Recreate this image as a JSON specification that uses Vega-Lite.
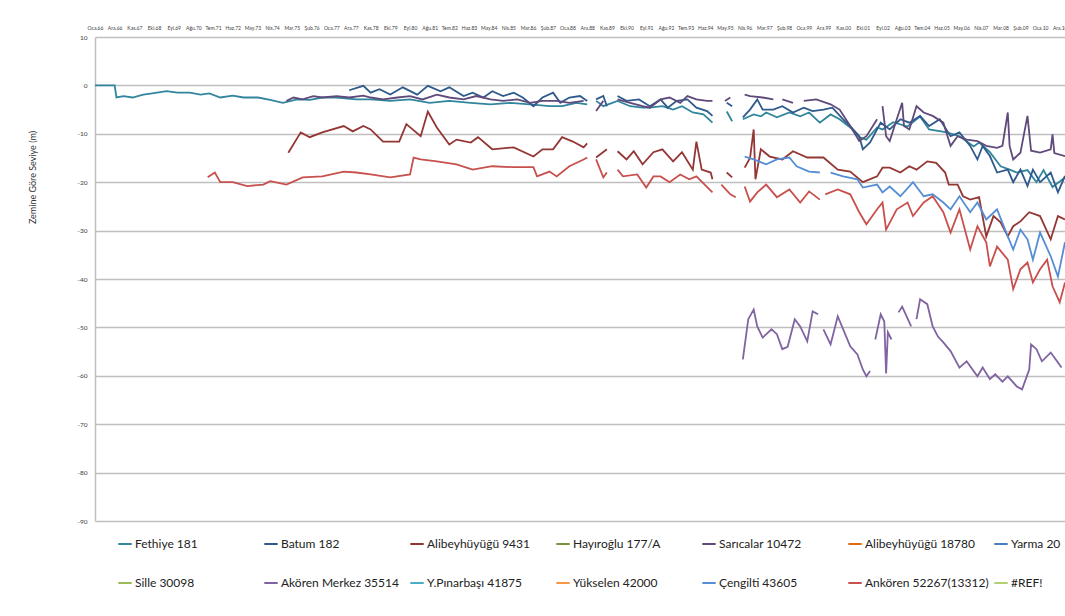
{
  "$schema": "https://vega.github.io/schema/vega-lite/v6.json",
  "width": 970,
  "height": 484,
  "autosize": {"type": "none"},
  "padding": {"left": 95, "top": 37, "right": 0, "bottom": 95},
  "background": "white",
  "config": {"view": {"stroke": null}, "font": "Lato"},
  "datasets": {
    "levels": [
      {"s":"Fethiye 181","d":"1966-01","v":0},{"s":"Fethiye 181","d":"1966-12","v":0},{"s":"Fethiye 181","d":"1967-01","v":-2.5},{"s":"Fethiye 181","d":"1967-05","v":-2.2},{"s":"Fethiye 181","d":"1967-10","v":-2.5},{"s":"Fethiye 181","d":"1968-04","v":-1.9},{"s":"Fethiye 181","d":"1968-09","v":-1.65},{"s":"Fethiye 181","d":"1969-05","v":-1.2},{"s":"Fethiye 181","d":"1969-11","v":-1.5},{"s":"Fethiye 181","d":"1970-06","v":-1.5},{"s":"Fethiye 181","d":"1970-12","v":-1.9},{"s":"Fethiye 181","d":"1971-05","v":-1.65},{"s":"Fethiye 181","d":"1971-11","v":-2.5},{"s":"Fethiye 181","d":"1972-06","v":-2.1},{"s":"Fethiye 181","d":"1972-12","v":-2.5},{"s":"Fethiye 181","d":"1973-08","v":-2.5},{"s":"Fethiye 181","d":"1974-03","v":-3.0},{"s":"Fethiye 181","d":"1974-10","v":-3.6},{"s":"Fethiye 181","d":"1975-06","v":-2.9},{"s":"Fethiye 181","d":"1976-01","v":-3.0},{"s":"Fethiye 181","d":"1976-08","v":-2.5},{"s":"Fethiye 181","d":"1977-04","v":-2.5},{"s":"Fethiye 181","d":"1978-03","v":-2.9},{"s":"Fethiye 181","d":"1978-11","v":-2.9},{"s":"Fethiye 181","d":"1979-10","v":-3.2},{"s":"Fethiye 181","d":"1980-09","v":-2.9},{"s":"Fethiye 181","d":"1981-08","v":-3.6},{"s":"Fethiye 181","d":"1982-07","v":-3.2},{"s":"Fethiye 181","d":"1983-07","v":-3.6},{"s":"Fethiye 181","d":"1984-06","v":-3.9},{"s":"Fethiye 181","d":"1985-05","v":-3.6},{"s":"Fethiye 181","d":"1986-04","v":-3.9},{"s":"Fethiye 181","d":"1987-03","v":-4.3},{"s":"Fethiye 181","d":"1987-10","v":-4.3},{"s":"Fethiye 181","d":"1988-06","v":-3.6},{"s":"Fethiye 181","d":"1988-12","v":-3.9},{"s":"Fethiye 181","d":"1989-02","v":null},{"s":"Fethiye 181","d":"1989-05","v":-3.2},{"s":"Fethiye 181","d":"1989-09","v":-4.3},{"s":"Fethiye 181","d":"1990-05","v":-3.2},{"s":"Fethiye 181","d":"1990-12","v":-4.3},{"s":"Fethiye 181","d":"1991-07","v":-4.6},{"s":"Fethiye 181","d":"1991-11","v":-4.6},{"s":"Fethiye 181","d":"1992-06","v":-4.3},{"s":"Fethiye 181","d":"1992-12","v":-5.0},{"s":"Fethiye 181","d":"1993-05","v":-4.3},{"s":"Fethiye 181","d":"1993-11","v":-5.6},{"s":"Fethiye 181","d":"1994-05","v":-6.0},{"s":"Fethiye 181","d":"1994-10","v":-7.7},{"s":"Fethiye 181","d":"1995-02","v":null},{"s":"Fethiye 181","d":"1995-06","v":-5.4},{"s":"Fethiye 181","d":"1995-09","v":-7.4},{"s":"Fethiye 181","d":"1995-12","v":null},{"s":"Fethiye 181","d":"1996-03","v":-7.0},{"s":"Fethiye 181","d":"1996-09","v":-6.0},{"s":"Fethiye 181","d":"1997-01","v":-6.4},{"s":"Fethiye 181","d":"1997-04","v":-5.6},{"s":"Fethiye 181","d":"1997-10","v":-6.6},{"s":"Fethiye 181","d":"1998-05","v":-5.6},{"s":"Fethiye 181","d":"1998-11","v":-6.4},{"s":"Fethiye 181","d":"1999-04","v":-5.6},{"s":"Fethiye 181","d":"1999-10","v":-7.7},{"s":"Fethiye 181","d":"2000-04","v":-6.0},{"s":"Fethiye 181","d":"2000-09","v":-7.0},{"s":"Fethiye 181","d":"2001-03","v":-8.7},{"s":"Fethiye 181","d":"2001-08","v":-10.7},{"s":"Fethiye 181","d":"2001-12","v":-11.2},{"s":"Fethiye 181","d":"2002-06","v":-8.7},{"s":"Fethiye 181","d":"2002-09","v":-9.1},{"s":"Fethiye 181","d":"2003-03","v":-7.6},{"s":"Fethiye 181","d":"2003-11","v":-8.5},{"s":"Fethiye 181","d":"2004-06","v":-6.4},{"s":"Fethiye 181","d":"2004-11","v":-9.1},{"s":"Fethiye 181","d":"2005-09","v":-9.7},{"s":"Fethiye 181","d":"2006-04","v":-10.5},{"s":"Fethiye 181","d":"2006-12","v":-12.6},{"s":"Fethiye 181","d":"2007-03","v":-11.8},{"s":"Fethiye 181","d":"2007-09","v":-13.8},{"s":"Fethiye 181","d":"2008-03","v":-16.7},{"s":"Fethiye 181","d":"2008-08","v":-17.4},{"s":"Fethiye 181","d":"2008-12","v":-18},{"s":"Fethiye 181","d":"2009-06","v":-17.5},{"s":"Fethiye 181","d":"2009-11","v":-20},{"s":"Fethiye 181","d":"2010-03","v":-17.5},{"s":"Fethiye 181","d":"2010-08","v":-21},{"s":"Fethiye 181","d":"2011-03","v":-19},

      {"s":"Batum 182","d":"1977-11","v":-1.0},{"s":"Batum 182","d":"1978-07","v":-0.1},{"s":"Batum 182","d":"1978-11","v":-1.5},{"s":"Batum 182","d":"1979-04","v":-0.8},{"s":"Batum 182","d":"1979-10","v":-1.9},{"s":"Batum 182","d":"1980-05","v":-0.4},{"s":"Batum 182","d":"1981-01","v":-1.9},{"s":"Batum 182","d":"1981-07","v":-0.1},{"s":"Batum 182","d":"1982-02","v":-1.2},{"s":"Batum 182","d":"1982-07","v":-0.4},{"s":"Batum 182","d":"1983-03","v":-2.2},{"s":"Batum 182","d":"1983-08","v":-1.5},{"s":"Batum 182","d":"1984-02","v":-2.5},{"s":"Batum 182","d":"1984-07","v":-1.2},{"s":"Batum 182","d":"1985-01","v":-2.2},{"s":"Batum 182","d":"1985-07","v":-1.5},{"s":"Batum 182","d":"1985-12","v":-2.5},{"s":"Batum 182","d":"1986-06","v":-4.3},{"s":"Batum 182","d":"1986-11","v":-2.5},{"s":"Batum 182","d":"1987-05","v":-1.5},{"s":"Batum 182","d":"1987-09","v":-3.6},{"s":"Batum 182","d":"1988-02","v":-2.5},{"s":"Batum 182","d":"1988-08","v":-2.2},{"s":"Batum 182","d":"1988-12","v":-3.2},{"s":"Batum 182","d":"1989-02","v":null},{"s":"Batum 182","d":"1989-05","v":-2.9},{"s":"Batum 182","d":"1989-09","v":-2.2},{"s":"Batum 182","d":"1989-11","v":-4.3},{"s":"Batum 182","d":"1990-02","v":null},{"s":"Batum 182","d":"1990-05","v":-2.2},{"s":"Batum 182","d":"1990-10","v":-3.2},{"s":"Batum 182","d":"1991-05","v":-2.9},{"s":"Batum 182","d":"1991-11","v":-4.3},{"s":"Batum 182","d":"1992-05","v":-2.9},{"s":"Batum 182","d":"1992-09","v":-4.6},{"s":"Batum 182","d":"1993-02","v":-3.2},{"s":"Batum 182","d":"1993-08","v":-2.9},{"s":"Batum 182","d":"1994-01","v":-4.6},{"s":"Batum 182","d":"1994-07","v":-5.3},{"s":"Batum 182","d":"1994-10","v":-6.3},{"s":"Batum 182","d":"1995-02","v":null},{"s":"Batum 182","d":"1995-06","v":-3.6},{"s":"Batum 182","d":"1995-09","v":-4.3},{"s":"Batum 182","d":"1995-12","v":null},{"s":"Batum 182","d":"1996-03","v":-6.6},{"s":"Batum 182","d":"1996-07","v":-5.0},{"s":"Batum 182","d":"1996-11","v":-2.9},{"s":"Batum 182","d":"1997-02","v":-5.0},{"s":"Batum 182","d":"1997-08","v":-5.0},{"s":"Batum 182","d":"1998-01","v":-4.3},{"s":"Batum 182","d":"1998-07","v":-5.6},{"s":"Batum 182","d":"1999-01","v":-4.6},{"s":"Batum 182","d":"1999-06","v":-5.3},{"s":"Batum 182","d":"1999-12","v":-5.0},{"s":"Batum 182","d":"2000-05","v":-4.6},{"s":"Batum 182","d":"2000-11","v":-7.0},{"s":"Batum 182","d":"2001-03","v":-8.4},{"s":"Batum 182","d":"2001-08","v":-10.5},{"s":"Batum 182","d":"2001-10","v":-13.2},{"s":"Batum 182","d":"2002-02","v":-11.8},{"s":"Batum 182","d":"2002-08","v":-7.7},{"s":"Batum 182","d":"2003-01","v":-9.1},{"s":"Batum 182","d":"2003-07","v":-7.0},{"s":"Batum 182","d":"2003-12","v":-7.7},{"s":"Batum 182","d":"2004-06","v":-6.3},{"s":"Batum 182","d":"2004-11","v":-8.4},{"s":"Batum 182","d":"2005-05","v":-7.0},{"s":"Batum 182","d":"2005-11","v":-10.5},{"s":"Batum 182","d":"2006-04","v":-9.7},{"s":"Batum 182","d":"2006-10","v":-12.5},{"s":"Batum 182","d":"2007-02","v":-15.3},{"s":"Batum 182","d":"2007-05","v":-12.5},{"s":"Batum 182","d":"2007-09","v":-14.6},{"s":"Batum 182","d":"2008-01","v":-18},{"s":"Batum 182","d":"2008-07","v":-17.4},{"s":"Batum 182","d":"2008-10","v":-20},{"s":"Batum 182","d":"2009-02","v":-17.4},{"s":"Batum 182","d":"2009-06","v":-20.8},{"s":"Batum 182","d":"2009-09","v":-17.4},{"s":"Batum 182","d":"2010-01","v":-20},{"s":"Batum 182","d":"2010-07","v":-18},{"s":"Batum 182","d":"2010-11","v":-22.1},{"s":"Batum 182","d":"2011-03","v":-18.7},

      {"s":"Sarıcalar 10472","d":"1974-12","v":-3.2},{"s":"Sarıcalar 10472","d":"1975-04","v":-2.5},{"s":"Sarıcalar 10472","d":"1975-09","v":-2.9},{"s":"Sarıcalar 10472","d":"1976-03","v":-2.2},{"s":"Sarıcalar 10472","d":"1976-08","v":-2.5},{"s":"Sarıcalar 10472","d":"1977-04","v":-2.2},{"s":"Sarıcalar 10472","d":"1977-11","v":-2.5},{"s":"Sarıcalar 10472","d":"1978-07","v":-2.1},{"s":"Sarıcalar 10472","d":"1978-11","v":-2.5},{"s":"Sarıcalar 10472","d":"1979-06","v":-2.9},{"s":"Sarıcalar 10472","d":"1980-02","v":-2.5},{"s":"Sarıcalar 10472","d":"1980-09","v":-2.2},{"s":"Sarıcalar 10472","d":"1981-04","v":-2.9},{"s":"Sarıcalar 10472","d":"1981-12","v":-1.9},{"s":"Sarıcalar 10472","d":"1982-07","v":-2.5},{"s":"Sarıcalar 10472","d":"1983-03","v":-2.9},{"s":"Sarıcalar 10472","d":"1983-10","v":-2.2},{"s":"Sarıcalar 10472","d":"1984-06","v":-2.9},{"s":"Sarıcalar 10472","d":"1985-01","v":-3.2},{"s":"Sarıcalar 10472","d":"1985-09","v":-2.9},{"s":"Sarıcalar 10472","d":"1986-04","v":-3.6},{"s":"Sarıcalar 10472","d":"1986-11","v":-3.2},{"s":"Sarıcalar 10472","d":"1987-07","v":-3.2},{"s":"Sarıcalar 10472","d":"1988-02","v":-3.6},{"s":"Sarıcalar 10472","d":"1988-10","v":-3.2},{"s":"Sarıcalar 10472","d":"1989-02","v":null},{"s":"Sarıcalar 10472","d":"1989-05","v":-5.3},{"s":"Sarıcalar 10472","d":"1989-09","v":-3.2},{"s":"Sarıcalar 10472","d":"1990-01","v":null},{"s":"Sarıcalar 10472","d":"1990-05","v":-2.9},{"s":"Sarıcalar 10472","d":"1990-12","v":-3.6},{"s":"Sarıcalar 10472","d":"1991-07","v":-4.3},{"s":"Sarıcalar 10472","d":"1991-11","v":-4.6},{"s":"Sarıcalar 10472","d":"1992-05","v":-2.9},{"s":"Sarıcalar 10472","d":"1992-10","v":-2.5},{"s":"Sarıcalar 10472","d":"1993-04","v":-3.6},{"s":"Sarıcalar 10472","d":"1993-08","v":-2.2},{"s":"Sarıcalar 10472","d":"1994-01","v":-2.9},{"s":"Sarıcalar 10472","d":"1994-07","v":-3.2},{"s":"Sarıcalar 10472","d":"1994-10","v":-3.2},{"s":"Sarıcalar 10472","d":"1995-01","v":null},{"s":"Sarıcalar 10472","d":"1995-05","v":-3.2},{"s":"Sarıcalar 10472","d":"1995-08","v":-2.5},{"s":"Sarıcalar 10472","d":"1995-12","v":null},{"s":"Sarıcalar 10472","d":"1996-04","v":-1.9},{"s":"Sarıcalar 10472","d":"1996-07","v":-2.2},{"s":"Sarıcalar 10472","d":"1997-02","v":-2.5},{"s":"Sarıcalar 10472","d":"1997-08","v":-2.9},{"s":"Sarıcalar 10472","d":"1997-10","v":null},{"s":"Sarıcalar 10472","d":"1998-01","v":-2.9},{"s":"Sarıcalar 10472","d":"1998-07","v":-3.6},{"s":"Sarıcalar 10472","d":"1998-10","v":null},{"s":"Sarıcalar 10472","d":"1999-01","v":-3.2},{"s":"Sarıcalar 10472","d":"1999-08","v":-2.9},{"s":"Sarıcalar 10472","d":"2000-04","v":-3.9},{"s":"Sarıcalar 10472","d":"2000-09","v":-5.0},{"s":"Sarıcalar 10472","d":"2001-03","v":-8.4},{"s":"Sarıcalar 10472","d":"2001-08","v":-11.5},{"s":"Sarıcalar 10472","d":"2001-12","v":-10.5},{"s":"Sarıcalar 10472","d":"2002-06","v":-7.0},{"s":"Sarıcalar 10472","d":"2002-08","v":null},{"s":"Sarıcalar 10472","d":"2002-09","v":-4.3},{"s":"Sarıcalar 10472","d":"2002-11","v":-10.5},{"s":"Sarıcalar 10472","d":"2003-01","v":-11.5},{"s":"Sarıcalar 10472","d":"2003-05","v":-7.0},{"s":"Sarıcalar 10472","d":"2003-08","v":-3.6},{"s":"Sarıcalar 10472","d":"2003-09","v":-8.4},{"s":"Sarıcalar 10472","d":"2003-12","v":-9.1},{"s":"Sarıcalar 10472","d":"2004-04","v":-4.3},{"s":"Sarıcalar 10472","d":"2004-08","v":-5.6},{"s":"Sarıcalar 10472","d":"2005-01","v":-6.3},{"s":"Sarıcalar 10472","d":"2005-07","v":-7.7},{"s":"Sarıcalar 10472","d":"2005-11","v":-12.5},{"s":"Sarıcalar 10472","d":"2006-03","v":-10.5},{"s":"Sarıcalar 10472","d":"2006-08","v":-11.2},{"s":"Sarıcalar 10472","d":"2007-02","v":-11.5},{"s":"Sarıcalar 10472","d":"2007-07","v":-12.5},{"s":"Sarıcalar 10472","d":"2008-01","v":-12.9},{"s":"Sarıcalar 10472","d":"2008-04","v":-12.5},{"s":"Sarıcalar 10472","d":"2008-07","v":-5.6},{"s":"Sarıcalar 10472","d":"2008-08","v":-12.5},{"s":"Sarıcalar 10472","d":"2008-10","v":-15.3},{"s":"Sarıcalar 10472","d":"2009-02","v":-13.9},{"s":"Sarıcalar 10472","d":"2009-06","v":-6.3},{"s":"Sarıcalar 10472","d":"2009-08","v":-13.5},{"s":"Sarıcalar 10472","d":"2010-01","v":-13.9},{"s":"Sarıcalar 10472","d":"2010-07","v":-13.2},{"s":"Sarıcalar 10472","d":"2010-08","v":-10.1},{"s":"Sarıcalar 10472","d":"2010-09","v":-14},{"s":"Sarıcalar 10472","d":"2011-03","v":-14.6},

      {"s":"Alibeyhüyüğü 9431","d":"1975-01","v":-13.9},{"s":"Alibeyhüyüğü 9431","d":"1975-08","v":-9.7},{"s":"Alibeyhüyüğü 9431","d":"1976-01","v":-10.7},{"s":"Alibeyhüyüğü 9431","d":"1976-08","v":-9.7},{"s":"Alibeyhüyüğü 9431","d":"1977-08","v":-8.4},{"s":"Alibeyhüyüğü 9431","d":"1978-01","v":-9.5},{"s":"Alibeyhüyüğü 9431","d":"1978-07","v":-8.4},{"s":"Alibeyhüyüğü 9431","d":"1978-11","v":-9.1},{"s":"Alibeyhüyüğü 9431","d":"1979-06","v":-11.6},{"s":"Alibeyhüyüğü 9431","d":"1980-03","v":-11.6},{"s":"Alibeyhüyüğü 9431","d":"1980-07","v":-8.0},{"s":"Alibeyhüyüğü 9431","d":"1981-03","v":-10.5},{"s":"Alibeyhüyüğü 9431","d":"1981-07","v":-5.4},{"s":"Alibeyhüyüğü 9431","d":"1981-12","v":-8.7},{"s":"Alibeyhüyüğü 9431","d":"1982-07","v":-12.2},{"s":"Alibeyhüyüğü 9431","d":"1982-11","v":-11.2},{"s":"Alibeyhüyüğü 9431","d":"1983-07","v":-11.8},{"s":"Alibeyhüyüğü 9431","d":"1983-11","v":-10.7},{"s":"Alibeyhüyüğü 9431","d":"1984-07","v":-13.2},{"s":"Alibeyhüyüğü 9431","d":"1985-07","v":-12.8},{"s":"Alibeyhüyüğü 9431","d":"1986-06","v":-14.7},{"s":"Alibeyhüyüğü 9431","d":"1986-11","v":-13.2},{"s":"Alibeyhüyüğü 9431","d":"1987-05","v":-13.2},{"s":"Alibeyhüyüğü 9431","d":"1987-10","v":-10.7},{"s":"Alibeyhüyüğü 9431","d":"1988-04","v":-11.6},{"s":"Alibeyhüyüğü 9431","d":"1988-10","v":-12.8},{"s":"Alibeyhüyüğü 9431","d":"1988-12","v":-12.0},{"s":"Alibeyhüyüğü 9431","d":"1989-02","v":null},{"s":"Alibeyhüyüğü 9431","d":"1989-05","v":-14.9},{"s":"Alibeyhüyüğü 9431","d":"1989-11","v":-13.2},{"s":"Alibeyhüyüğü 9431","d":"1990-02","v":null},{"s":"Alibeyhüyüğü 9431","d":"1990-05","v":-13.6},{"s":"Alibeyhüyüğü 9431","d":"1990-10","v":-15.3},{"s":"Alibeyhüyüğü 9431","d":"1991-02","v":-13.6},{"s":"Alibeyhüyüğü 9431","d":"1991-07","v":-16.3},{"s":"Alibeyhüyüğü 9431","d":"1992-01","v":-13.8},{"s":"Alibeyhüyüğü 9431","d":"1992-06","v":-13.2},{"s":"Alibeyhüyüğü 9431","d":"1992-12","v":-15.7},{"s":"Alibeyhüyüğü 9431","d":"1993-05","v":-13.8},{"s":"Alibeyhüyüğü 9431","d":"1993-11","v":-17.4},{"s":"Alibeyhüyüğü 9431","d":"1994-01","v":-11.6},{"s":"Alibeyhüyüğü 9431","d":"1994-04","v":-17.4},{"s":"Alibeyhüyüğü 9431","d":"1994-09","v":-18},{"s":"Alibeyhüyüğü 9431","d":"1994-10","v":-19.4},{"s":"Alibeyhüyüğü 9431","d":"1995-02","v":null},{"s":"Alibeyhüyüğü 9431","d":"1995-06","v":-18},{"s":"Alibeyhüyüğü 9431","d":"1995-09","v":-19},{"s":"Alibeyhüyüğü 9431","d":"1995-11","v":null},{"s":"Alibeyhüyüğü 9431","d":"1996-04","v":-17},{"s":"Alibeyhüyüğü 9431","d":"1996-07","v":-15},{"s":"Alibeyhüyüğü 9431","d":"1996-09","v":-9.1},{"s":"Alibeyhüyüğü 9431","d":"1996-10","v":-19.4},{"s":"Alibeyhüyüğü 9431","d":"1997-01","v":-13.2},{"s":"Alibeyhüyüğü 9431","d":"1997-06","v":-14.7},{"s":"Alibeyhüyüğü 9431","d":"1998-01","v":-15.3},{"s":"Alibeyhüyüğü 9431","d":"1998-07","v":-13.6},{"s":"Alibeyhüyüğü 9431","d":"1999-03","v":-14.9},{"s":"Alibeyhüyüğü 9431","d":"1999-12","v":-14.9},{"s":"Alibeyhüyüğü 9431","d":"2000-08","v":-17.4},{"s":"Alibeyhüyüğü 9431","d":"2001-03","v":-17.8},{"s":"Alibeyhüyüğü 9431","d":"2001-10","v":-20},{"s":"Alibeyhüyüğü 9431","d":"2002-06","v":-18.8},{"s":"Alibeyhüyüğü 9431","d":"2002-09","v":-17},{"s":"Alibeyhüyüğü 9431","d":"2003-01","v":-17},{"s":"Alibeyhüyüğü 9431","d":"2003-07","v":-18},{"s":"Alibeyhüyüğü 9431","d":"2003-12","v":-16.7},{"s":"Alibeyhüyüğü 9431","d":"2004-04","v":-17.4},{"s":"Alibeyhüyüğü 9431","d":"2004-10","v":-15.7},{"s":"Alibeyhüyüğü 9431","d":"2005-03","v":-16},{"s":"Alibeyhüyüğü 9431","d":"2005-08","v":-18},{"s":"Alibeyhüyüğü 9431","d":"2005-10","v":-20.5},{"s":"Alibeyhüyüğü 9431","d":"2006-03","v":-20.5},{"s":"Alibeyhüyüğü 9431","d":"2006-06","v":-22.9},{"s":"Alibeyhüyüğü 9431","d":"2006-10","v":-23.6},{"s":"Alibeyhüyüğü 9431","d":"2007-03","v":-23.1},{"s":"Alibeyhüyüğü 9431","d":"2007-07","v":-31.2},{"s":"Alibeyhüyüğü 9431","d":"2007-11","v":-27},{"s":"Alibeyhüyüğü 9431","d":"2008-03","v":-28.3},{"s":"Alibeyhüyüğü 9431","d":"2008-07","v":-31.2},{"s":"Alibeyhüyüğü 9431","d":"2008-10","v":-29.1},{"s":"Alibeyhüyüğü 9431","d":"2009-02","v":-28.1},{"s":"Alibeyhüyüğü 9431","d":"2009-07","v":-26.2},{"s":"Alibeyhüyüğü 9431","d":"2010-01","v":-27},{"s":"Alibeyhüyüğü 9431","d":"2010-07","v":-31.8},{"s":"Alibeyhüyüğü 9431","d":"2010-11","v":-27},{"s":"Alibeyhüyüğü 9431","d":"2011-03","v":-27.7},

      {"s":"Akören Merkez 35514","d":"1996-03","v":-56.6},{"s":"Akören Merkez 35514","d":"1996-06","v":-48.3},{"s":"Akören Merkez 35514","d":"1996-09","v":-46.3},{"s":"Akören Merkez 35514","d":"1996-11","v":-49.8},{"s":"Akören Merkez 35514","d":"1997-02","v":-52.1},{"s":"Akören Merkez 35514","d":"1997-07","v":-50.4},{"s":"Akören Merkez 35514","d":"1997-10","v":-51.4},{"s":"Akören Merkez 35514","d":"1998-01","v":-54.5},{"s":"Akören Merkez 35514","d":"1998-04","v":-54},{"s":"Akören Merkez 35514","d":"1998-08","v":-48.3},{"s":"Akören Merkez 35514","d":"1998-11","v":-49.8},{"s":"Akören Merkez 35514","d":"1999-03","v":-52.9},{"s":"Akören Merkez 35514","d":"1999-06","v":-46.7},{"s":"Akören Merkez 35514","d":"1999-09","v":-47.3},{"s":"Akören Merkez 35514","d":"1999-10","v":null},{"s":"Akören Merkez 35514","d":"1999-12","v":-50.4},{"s":"Akören Merkez 35514","d":"2000-04","v":-53.5},{"s":"Akören Merkez 35514","d":"2000-08","v":-47.7},{"s":"Akören Merkez 35514","d":"2000-11","v":-50.4},{"s":"Akören Merkez 35514","d":"2001-03","v":-53.9},{"s":"Akören Merkez 35514","d":"2001-07","v":-55.6},{"s":"Akören Merkez 35514","d":"2001-10","v":-58.7},{"s":"Akören Merkez 35514","d":"2001-12","v":-60.1},{"s":"Akören Merkez 35514","d":"2002-02","v":-59},{"s":"Akören Merkez 35514","d":"2002-03","v":null},{"s":"Akören Merkez 35514","d":"2002-05","v":-52.5},{"s":"Akören Merkez 35514","d":"2002-08","v":-47.3},{"s":"Akören Merkez 35514","d":"2002-10","v":-48.8},{"s":"Akören Merkez 35514","d":"2002-11","v":-59.5},{"s":"Akören Merkez 35514","d":"2002-12","v":-51},{"s":"Akören Merkez 35514","d":"2003-02","v":-52.5},{"s":"Akören Merkez 35514","d":"2003-03","v":null},{"s":"Akören Merkez 35514","d":"2003-06","v":-46.9},{"s":"Akören Merkez 35514","d":"2003-08","v":-45.7},{"s":"Akören Merkez 35514","d":"2004-01","v":-49.8},{"s":"Akören Merkez 35514","d":"2004-02","v":null},{"s":"Akören Merkez 35514","d":"2004-04","v":-48.3},{"s":"Akören Merkez 35514","d":"2004-06","v":-44.2},{"s":"Akören Merkez 35514","d":"2004-10","v":-45.2},{"s":"Akören Merkez 35514","d":"2005-01","v":-49.8},{"s":"Akören Merkez 35514","d":"2005-04","v":-51.9},{"s":"Akören Merkez 35514","d":"2005-07","v":-53.1},{"s":"Akören Merkez 35514","d":"2005-11","v":-54.9},{"s":"Akören Merkez 35514","d":"2006-04","v":-58.3},{"s":"Akören Merkez 35514","d":"2006-08","v":-57},{"s":"Akören Merkez 35514","d":"2007-02","v":-60.1},{"s":"Akören Merkez 35514","d":"2007-05","v":-58.3},{"s":"Akören Merkez 35514","d":"2007-09","v":-60.7},{"s":"Akören Merkez 35514","d":"2007-12","v":-59.7},{"s":"Akören Merkez 35514","d":"2008-04","v":-61.2},{"s":"Akören Merkez 35514","d":"2008-07","v":-60.1},{"s":"Akören Merkez 35514","d":"2008-12","v":-62.2},{"s":"Akören Merkez 35514","d":"2009-03","v":-62.8},{"s":"Akören Merkez 35514","d":"2009-07","v":-58.7},{"s":"Akören Merkez 35514","d":"2009-08","v":-53.5},{"s":"Akören Merkez 35514","d":"2009-11","v":-54.5},{"s":"Akören Merkez 35514","d":"2010-02","v":-57},{"s":"Akören Merkez 35514","d":"2010-07","v":-55.2},{"s":"Akören Merkez 35514","d":"2010-09","v":-56.2},{"s":"Akören Merkez 35514","d":"2011-01","v":-58.3},

      {"s":"Çengilti 43605","d":"1996-04","v":-14.7},{"s":"Çengilti 43605","d":"1996-09","v":-15.3},{"s":"Çengilti 43605","d":"1997-04","v":-16.3},{"s":"Çengilti 43605","d":"1997-10","v":-15.3},{"s":"Çengilti 43605","d":"1998-05","v":-14.9},{"s":"Çengilti 43605","d":"1998-09","v":-16.7},{"s":"Çengilti 43605","d":"1999-04","v":-17.8},{"s":"Çengilti 43605","d":"1999-10","v":-18},{"s":"Çengilti 43605","d":"2000-01","v":null},{"s":"Çengilti 43605","d":"2000-04","v":-18},{"s":"Çengilti 43605","d":"2000-11","v":-18.8},{"s":"Çengilti 43605","d":"2001-07","v":-19.4},{"s":"Çengilti 43605","d":"2001-10","v":-21.1},{"s":"Çengilti 43605","d":"2002-06","v":-20.5},{"s":"Çengilti 43605","d":"2002-09","v":-22.1},{"s":"Çengilti 43605","d":"2003-01","v":-20.9},{"s":"Çengilti 43605","d":"2003-07","v":-22.9},{"s":"Çengilti 43605","d":"2004-02","v":-20},{"s":"Çengilti 43605","d":"2004-08","v":-22.9},{"s":"Çengilti 43605","d":"2005-01","v":-22.5},{"s":"Çengilti 43605","d":"2005-07","v":-24.2},{"s":"Çengilti 43605","d":"2005-11","v":-25.6},{"s":"Çengilti 43605","d":"2006-04","v":-22.9},{"s":"Çengilti 43605","d":"2006-10","v":-26.2},{"s":"Çengilti 43605","d":"2007-02","v":-24.2},{"s":"Çengilti 43605","d":"2007-07","v":-27.7},{"s":"Çengilti 43605","d":"2008-01","v":-25.6},{"s":"Çengilti 43605","d":"2008-07","v":-31.2},{"s":"Çengilti 43605","d":"2008-10","v":-33.9},{"s":"Çengilti 43605","d":"2009-02","v":-29.8},{"s":"Çengilti 43605","d":"2009-06","v":-31.8},{"s":"Çengilti 43605","d":"2009-09","v":-36},{"s":"Çengilti 43605","d":"2010-01","v":-30.4},{"s":"Çengilti 43605","d":"2010-07","v":-35.3},{"s":"Çengilti 43605","d":"2010-11","v":-39.5},{"s":"Çengilti 43605","d":"2011-03","v":-32.4},

      {"s":"Ankören 52267(13312)","d":"1971-04","v":-19},{"s":"Ankören 52267(13312)","d":"1971-08","v":-18},{"s":"Ankören 52267(13312)","d":"1971-11","v":-20},{"s":"Ankören 52267(13312)","d":"1972-06","v":-20},{"s":"Ankören 52267(13312)","d":"1973-02","v":-20.8},{"s":"Ankören 52267(13312)","d":"1973-11","v":-20.5},{"s":"Ankören 52267(13312)","d":"1974-03","v":-19.8},{"s":"Ankören 52267(13312)","d":"1974-12","v":-20.5},{"s":"Ankören 52267(13312)","d":"1975-09","v":-19},{"s":"Ankören 52267(13312)","d":"1976-08","v":-18.8},{"s":"Ankören 52267(13312)","d":"1977-08","v":-17.8},{"s":"Ankören 52267(13312)","d":"1978-03","v":-18},{"s":"Ankören 52267(13312)","d":"1978-11","v":-18.4},{"s":"Ankören 52267(13312)","d":"1979-10","v":-19},{"s":"Ankören 52267(13312)","d":"1980-09","v":-18.4},{"s":"Ankören 52267(13312)","d":"1980-11","v":-14.9},{"s":"Ankören 52267(13312)","d":"1981-03","v":-15.3},{"s":"Ankören 52267(13312)","d":"1981-12","v":-15.7},{"s":"Ankören 52267(13312)","d":"1982-11","v":-16.3},{"s":"Ankören 52267(13312)","d":"1983-08","v":-17.4},{"s":"Ankören 52267(13312)","d":"1984-07","v":-16.7},{"s":"Ankören 52267(13312)","d":"1985-07","v":-16.9},{"s":"Ankören 52267(13312)","d":"1986-06","v":-16.9},{"s":"Ankören 52267(13312)","d":"1986-08","v":-18.8},{"s":"Ankören 52267(13312)","d":"1987-03","v":-17.8},{"s":"Ankören 52267(13312)","d":"1987-07","v":-18.8},{"s":"Ankören 52267(13312)","d":"1988-02","v":-16.7},{"s":"Ankören 52267(13312)","d":"1988-10","v":-15.3},{"s":"Ankören 52267(13312)","d":"1988-12","v":-14.9},{"s":"Ankören 52267(13312)","d":"1989-02","v":null},{"s":"Ankören 52267(13312)","d":"1989-05","v":-15.3},{"s":"Ankören 52267(13312)","d":"1989-09","v":-19},{"s":"Ankören 52267(13312)","d":"1989-11","v":-18},{"s":"Ankören 52267(13312)","d":"1990-02","v":null},{"s":"Ankören 52267(13312)","d":"1990-05","v":-17.4},{"s":"Ankören 52267(13312)","d":"1990-08","v":-18.8},{"s":"Ankören 52267(13312)","d":"1991-04","v":-18.4},{"s":"Ankören 52267(13312)","d":"1991-09","v":-21.1},{"s":"Ankören 52267(13312)","d":"1992-01","v":-18.8},{"s":"Ankören 52267(13312)","d":"1992-05","v":-18.8},{"s":"Ankören 52267(13312)","d":"1992-10","v":-20},{"s":"Ankören 52267(13312)","d":"1993-04","v":-18.4},{"s":"Ankören 52267(13312)","d":"1993-09","v":-19.4},{"s":"Ankören 52267(13312)","d":"1994-01","v":-18.8},{"s":"Ankören 52267(13312)","d":"1994-10","v":-22.1},{"s":"Ankören 52267(13312)","d":"1994-12","v":null},{"s":"Ankören 52267(13312)","d":"1995-03","v":-20.5},{"s":"Ankören 52267(13312)","d":"1995-08","v":-22.5},{"s":"Ankören 52267(13312)","d":"1995-11","v":-23.1},{"s":"Ankören 52267(13312)","d":"1996-01","v":null},{"s":"Ankören 52267(13312)","d":"1996-04","v":-20.9},{"s":"Ankören 52267(13312)","d":"1996-07","v":-24},{"s":"Ankören 52267(13312)","d":"1996-11","v":-22.1},{"s":"Ankören 52267(13312)","d":"1997-04","v":-20.5},{"s":"Ankören 52267(13312)","d":"1997-10","v":-23.1},{"s":"Ankören 52267(13312)","d":"1998-05","v":-21.5},{"s":"Ankören 52267(13312)","d":"1998-11","v":-24.2},{"s":"Ankören 52267(13312)","d":"1999-04","v":-21.9},{"s":"Ankören 52267(13312)","d":"1999-10","v":-23.6},{"s":"Ankören 52267(13312)","d":"1999-11","v":null},{"s":"Ankören 52267(13312)","d":"2000-01","v":-22.5},{"s":"Ankören 52267(13312)","d":"2000-08","v":-21.5},{"s":"Ankören 52267(13312)","d":"2001-03","v":-22.5},{"s":"Ankören 52267(13312)","d":"2001-08","v":-26.2},{"s":"Ankören 52267(13312)","d":"2001-12","v":-28.7},{"s":"Ankören 52267(13312)","d":"2002-06","v":-25.6},{"s":"Ankören 52267(13312)","d":"2002-09","v":-24.2},{"s":"Ankören 52267(13312)","d":"2002-11","v":-29.8},{"s":"Ankören 52267(13312)","d":"2003-05","v":-25.6},{"s":"Ankören 52267(13312)","d":"2003-11","v":-24.2},{"s":"Ankören 52267(13312)","d":"2004-02","v":-27},{"s":"Ankören 52267(13312)","d":"2004-08","v":-24.2},{"s":"Ankören 52267(13312)","d":"2005-01","v":-22.9},{"s":"Ankören 52267(13312)","d":"2005-07","v":-26.2},{"s":"Ankören 52267(13312)","d":"2005-11","v":-30.4},{"s":"Ankören 52267(13312)","d":"2006-04","v":-25.6},{"s":"Ankören 52267(13312)","d":"2006-10","v":-33.9},{"s":"Ankören 52267(13312)","d":"2007-02","v":-29.1},{"s":"Ankören 52267(13312)","d":"2007-07","v":-32.4},{"s":"Ankören 52267(13312)","d":"2007-09","v":-37.4},{"s":"Ankören 52267(13312)","d":"2008-01","v":-33.3},{"s":"Ankören 52267(13312)","d":"2008-07","v":-36},{"s":"Ankören 52267(13312)","d":"2008-10","v":-42.1},{"s":"Ankören 52267(13312)","d":"2009-02","v":-38},{"s":"Ankören 52267(13312)","d":"2009-06","v":-36.6},{"s":"Ankören 52267(13312)","d":"2009-09","v":-40.7},{"s":"Ankören 52267(13312)","d":"2010-01","v":-38},{"s":"Ankören 52267(13312)","d":"2010-05","v":-36},{"s":"Ankören 52267(13312)","d":"2010-08","v":-41.5},{"s":"Ankören 52267(13312)","d":"2010-12","v":-44.8},{"s":"Ankören 52267(13312)","d":"2011-03","v":-40.7}
    ]
  },
  "data": {"name": "levels"},
  "mark": {"type": "line", "strokeWidth": 1.8, "invalid": "break-paths-show-domains", "clip": true},
  "encoding": {
    "x": {
      "field": "d",
      "type": "temporal",
      "scale": {"type": "utc", "domain": [{"year": 1966, "month": 1, "date": 1, "utc": true}, {"year": 2011, "month": 3, "date": 1, "utc": true}]},
      "axis": {
        "orient": "top",
        "title": null,
        "grid": false,
        "ticks": false,
        "domain": false,
        "labelFontSize": 5,
        "labelColor": "#404040",
        "labelPadding": 7,
        "labelAngle": 0,
        "labelOverlap": false,
        "labelFlush": false,
        "labelBound": false,
        "values": [
          {"year":1966,"month":1,"utc":true},{"year":1966,"month":12,"utc":true},{"year":1967,"month":11,"utc":true},{"year":1968,"month":10,"utc":true},{"year":1969,"month":9,"utc":true},{"year":1970,"month":8,"utc":true},{"year":1971,"month":7,"utc":true},{"year":1972,"month":6,"utc":true},{"year":1973,"month":5,"utc":true},{"year":1974,"month":4,"utc":true},{"year":1975,"month":3,"utc":true},{"year":1976,"month":2,"utc":true},{"year":1977,"month":1,"utc":true},{"year":1977,"month":12,"utc":true},{"year":1978,"month":11,"utc":true},{"year":1979,"month":10,"utc":true},{"year":1980,"month":9,"utc":true},{"year":1981,"month":8,"utc":true},{"year":1982,"month":7,"utc":true},{"year":1983,"month":6,"utc":true},{"year":1984,"month":5,"utc":true},{"year":1985,"month":4,"utc":true},{"year":1986,"month":3,"utc":true},{"year":1987,"month":2,"utc":true},{"year":1988,"month":1,"utc":true},{"year":1988,"month":12,"utc":true},{"year":1989,"month":11,"utc":true},{"year":1990,"month":10,"utc":true},{"year":1991,"month":9,"utc":true},{"year":1992,"month":8,"utc":true},{"year":1993,"month":7,"utc":true},{"year":1994,"month":6,"utc":true},{"year":1995,"month":5,"utc":true},{"year":1996,"month":4,"utc":true},{"year":1997,"month":3,"utc":true},{"year":1998,"month":2,"utc":true},{"year":1999,"month":1,"utc":true},{"year":1999,"month":12,"utc":true},{"year":2000,"month":11,"utc":true},{"year":2001,"month":10,"utc":true},{"year":2002,"month":9,"utc":true},{"year":2003,"month":8,"utc":true},{"year":2004,"month":7,"utc":true},{"year":2005,"month":6,"utc":true},{"year":2006,"month":5,"utc":true},{"year":2007,"month":4,"utc":true},{"year":2008,"month":3,"utc":true},{"year":2009,"month":2,"utc":true},{"year":2010,"month":1,"utc":true},{"year":2010,"month":12,"utc":true}
        ],
        "labelExpr": "['Oca','Şub','Mar','Nis','May','Haz','Tem','Ağu','Eyl','Eki','Kas','Ara'][utcmonth(datum.value)] + '.' + utcFormat(datum.value, '%y')"
      }
    },
    "y": {
      "field": "v",
      "type": "quantitative",
      "scale": {"domain": [-90, 10], "nice": false, "zero": false},
      "axis": {
        "values": [10, 0, -10, -20, -30, -40, -50, -60, -70, -80, -90],
        "labelExpr": "'' + datum.value",
        "grid": true,
        "gridColor": "#BFBFBF",
        "gridWidth": 1.5,
        "domain": true,
        "domainColor": "#BFBFBF",
        "domainWidth": 1.5,
        "ticks": false,
        "labelFontSize": 6.5,
        "labelColor": "#404040",
        "labelPadding": 8,
        "title": "Zemine Göre Seviye (m)",
        "titleFontSize": 9,
        "titleFontWeight": "normal",
        "titleColor": "#333333",
        "titleX": -58,
        "titleY": 140,
        "titleAngle": 270
      }
    },
    "color": {
      "field": "s",
      "type": "nominal",
      "scale": {
        "domain": ["Fethiye 181", "Batum 182", "Alibeyhüyüğü 9431", "Hayıroğlu 177/A", "Sarıcalar 10472", "Alibeyhüyüğü 18780", "Yarma 20", "Sille 30098", "Akören Merkez 35514", "Y.Pınarbaşı 41875", "Yükselen 42000", "Çengilti 43605", "Ankören 52267(13312)", "#REF!"],
        "range": ["#31859C", "#2E5A8C", "#943634", "#77933C", "#604A7B", "#E46C0A", "#4A7EBB", "#9BBB59", "#8064A2", "#4BACC6", "#F79646", "#558ED5", "#C8504D", "#B3CF74"]
      },
      "legend": {
        "orient": "none",
        "legendX": 22,
        "legendY": 499,
        "direction": "horizontal",
        "columns": 7,
        "gridAlign": "all",
        "columnPadding": 1,
        "rowPadding": 25,
        "padding": 0,
        "title": null,
        "symbolType": "stroke",
        "symbolSize": 180,
        "symbolStrokeWidth": 2,
        "labelFontSize": 12,
        "labelFont": "Lato",
        "labelColor": "#222222",
        "labelOffset": 2,
        "labelLimit": 200
      }
    }
  }
}
